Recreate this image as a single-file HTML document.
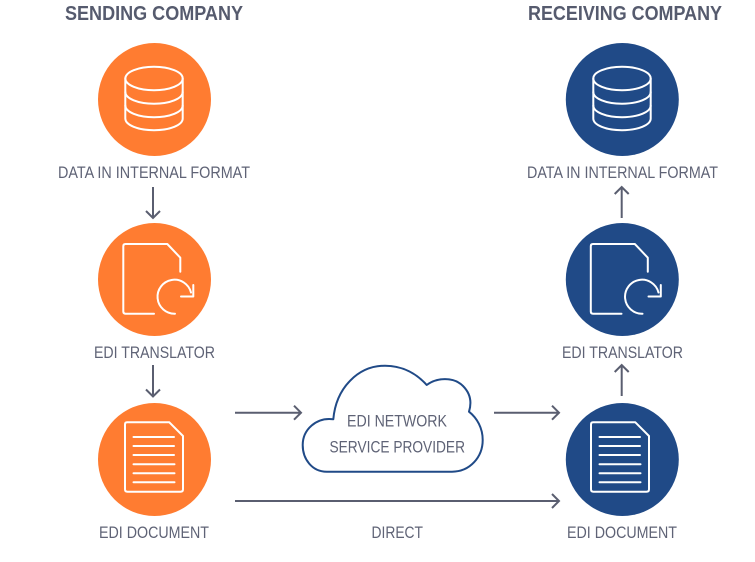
<!DOCTYPE html>
<html><head><meta charset="utf-8"><style>html,body{margin:0;padding:0;background:#fff}svg{display:block}
text{font-family:"Liberation Sans",sans-serif;fill:#5f6376;font-size:16.5px}
.h{font-weight:bold;font-size:20px;fill:#565b6e}
.w{fill:none;stroke:#fff;stroke-width:2;stroke-linecap:round;stroke-linejoin:round}
.a{fill:none;stroke:#5a5e70;stroke-width:2}
</style></head><body>
<svg width="755" height="562" viewBox="0 0 755 562" xmlns="http://www.w3.org/2000/svg">
<defs>
<g id="db" class="w">
<ellipse cx="0" cy="-20.5" rx="28.7" ry="11.7"/>
<path d="M-28.7-20.5V19.5C-28.7 26-16 31.2 0 31.2S28.7 26 28.7 19.5V-20.5"/>
<path d="M-28.7-7C-28.7-.5-16 4.7 0 4.7S28.7-.5 28.7-7"/>
<path d="M-28.7 6.5C-28.7 13-16 18.2 0 18.2S28.7 13 28.7 6.5"/>
</g>
<g id="tr" class="w">
<path d="M-.5 34.2H-29Q-31.2 34.2-31.2 32V-33.3Q-31.2-35.5-29-35.5H12.8L25.8-21.8V-7.8"/>
<path d="M20.5 34.2A17 17 0 1 1 36.5 13"/>
<path d="M38.8 5.5V17H26.5"/>
</g>
<g id="doc" class="w">
<path d="M-27.5-37.2H14.8L28.5-23.5V29.7Q28.5 32.2 26 32.2H-27Q-29.5 32.2-29.5 29.7V-35Q-29.5-37.2-27.5-37.2Z"/>
<path d="M-21-22.5H19.5M-21-13.5H19.5M-21-4.5H19.5M-21 4.8H20M-21 13.8H20M-21 22.8H20"/>
</g>
</defs>

<text class="h" x="65" y="20" textLength="178" lengthAdjust="spacingAndGlyphs">SENDING COMPANY</text>
<text class="h" x="528" y="20" textLength="194" lengthAdjust="spacingAndGlyphs">RECEIVING COMPANY</text>

<circle cx="154.5" cy="99.5" r="56.5" fill="#ff7c31"/>
<circle cx="154.5" cy="279.5" r="56.5" fill="#ff7c31"/>
<circle cx="154.5" cy="459.5" r="56.5" fill="#ff7c31"/>
<circle cx="622.3" cy="99.5" r="56.5" fill="#204a87"/>
<circle cx="622.3" cy="279.5" r="56.5" fill="#204a87"/>
<circle cx="622.3" cy="459.5" r="56.5" fill="#204a87"/>

<use href="#db" x="154" y="99"/>
<use href="#db" x="622" y="99"/>
<use href="#tr" x="154.5" y="279.5"/>
<use href="#tr" x="622" y="279.5"/>
<use href="#doc" x="154.5" y="459.5"/>
<use href="#doc" x="620.5" y="459.5"/>

<text x="58" y="178" textLength="192" lengthAdjust="spacingAndGlyphs">DATA IN INTERNAL FORMAT</text>
<text x="527" y="178" textLength="191" lengthAdjust="spacingAndGlyphs">DATA IN INTERNAL FORMAT</text>
<text x="94" y="358" textLength="121" lengthAdjust="spacingAndGlyphs">EDI TRANSLATOR</text>
<text x="562" y="358" textLength="121" lengthAdjust="spacingAndGlyphs">EDI TRANSLATOR</text>
<text x="99" y="538" textLength="110" lengthAdjust="spacingAndGlyphs">EDI DOCUMENT</text>
<text x="567" y="538" textLength="110" lengthAdjust="spacingAndGlyphs">EDI DOCUMENT</text>
<text x="371.5" y="538" textLength="51.5" lengthAdjust="spacingAndGlyphs">DIRECT</text>

<path d="M333.3 419.3C336 388 358 365.7 385 365.7C403 365.7 417 374 426.7 385C436 378 453 376 463 386C470 393 472 402 469 411.7C477 418 482.7 428 482.7 440C482.7 457 470 471.7 452 471.7H326.7C312 471.7 302.7 459 302.7 445C302.7 430 316 417 333.3 419.3Z" fill="#fff" stroke="#204a87" stroke-width="2" stroke-linejoin="round"/>
<text x="347" y="426.7" textLength="100" lengthAdjust="spacingAndGlyphs">EDI NETWORK</text>
<text x="329.5" y="452.7" textLength="135.5" lengthAdjust="spacingAndGlyphs">SERVICE PROVIDER</text>

<g class="a">
<path d="M153 187V218M146 211L153 218L160 211"/>
<path d="M153 365V396.5M146 389.5L153 396.5L160 389.5"/>
<path d="M235 412.7H301M294 405.7L301 412.7L294 419.7"/>
<path d="M494 412.7H559M552 405.7L559 412.7L552 419.7"/>
<path d="M235 501H559M552 494L559 501L552 508"/>
<path d="M621.7 218V187M614.7 194L621.7 187L628.7 194"/>
<path d="M621.7 396V365M614.7 372L621.7 365L628.7 372"/>
</g>
</svg>
</body></html>
